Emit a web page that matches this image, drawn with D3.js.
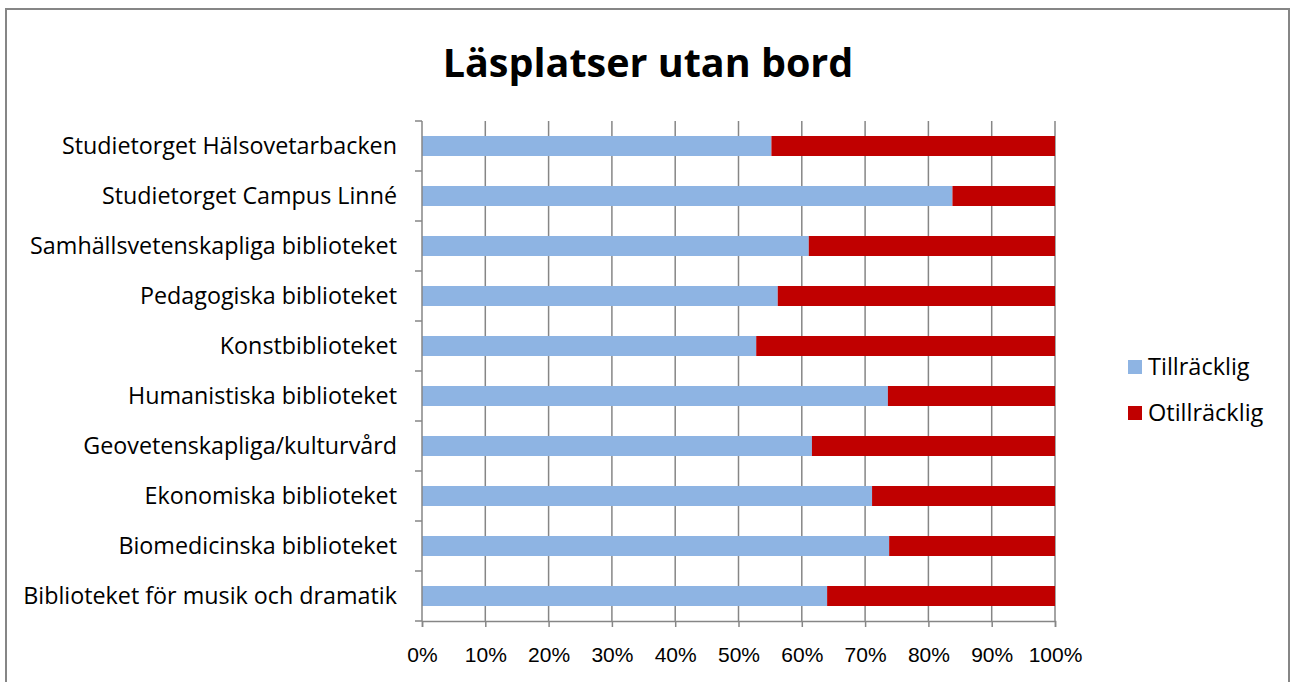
<!DOCTYPE html>
<html>
<head>
<meta charset="utf-8">
<script src="https://cdn.jsdelivr.net/npm/d3@7"></script>
<style>
  html, body { margin: 0; padding: 0; background: #fff; }
  svg { display: block; font-family: "Open Sans", Lato, sans-serif; }
</style>
</head>
<body>
<div id="chart"></div>
<script>
// Läsplatser utan bord - stacked 100% bar chart

const categories = [
  "Studietorget Hälsovetarbacken",
  "Studietorget Campus Linné",
  "Samhällsvetenskapliga biblioteket",
  "Pedagogiska biblioteket",
  "Konstbiblioteket",
  "Humanistiska biblioteket",
  "Geovetenskapliga/kulturvård",
  "Ekonomiska biblioteket",
  "Biomedicinska biblioteket",
  "Biblioteket för musik och dramatik"
];

// share (%) per library
const tillracklig = [55.2, 83.8, 61.1, 56.2, 52.8, 73.6, 61.6, 71.1, 73.8, 64.0];
const otillracklig = [44.8, 16.2, 38.9, 43.8, 47.2, 26.4, 38.4, 28.9, 26.2, 36.0];

const seriesNames = ["Tillräcklig", "Otillräcklig"];
const seriesColors = ["#8EB4E3", "#C00000"];
const xTicks = [0, 10, 20, 30, 40, 50, 60, 70, 80, 90, 100];

const W = 1291, H = 682;
const plot = { left: 422, right: 1055, top: 121, bottom: 621 };

const svg = d3.select("#chart").append("svg")
  .attr("width", W)
  .attr("height", H);

// chart area frame
svg.append("rect")
  .attr("x", 6).attr("y", 9)
  .attr("width", 1283).attr("height", 690)
  .attr("fill", "#fff")
  .attr("stroke", "#868686")
  .attr("stroke-width", 2);

// title
svg.append("text")
  .attr("x", 648).attr("y", 77)
  .attr("text-anchor", "middle")
  .style("font-size", "39.5px")
  .style("font-weight", "bold")
  .style("fill", "#000")
  .text("Läsplatser utan bord");

const rows = categories.map((c, i) => ({
  name: c,
  values: [tillracklig[i], otillracklig[i]]
}));

const x = d3.scaleLinear().domain([0, 100]).range([plot.left, plot.right]);
const y = d3.scaleBand()
  .domain(categories)
  .range([plot.top, plot.bottom])
  .paddingInner(0.6)
  .paddingOuter(0.3);

// vertical gridlines
svg.append("g")
  .selectAll("line")
  .data(xTicks.slice(1))
  .join("line")
  .attr("x1", d => x(d)).attr("x2", d => x(d))
  .attr("y1", plot.top).attr("y2", plot.bottom)
  .attr("stroke", "#868686")
  .attr("stroke-width", 1.5);

// stacked bars
const stack = d3.stack().keys([0, 1]).value((d, k) => d.values[k]);
const layers = stack(rows);

svg.append("g")
  .selectAll("g")
  .data(layers)
  .join("g")
  .attr("fill", (d, i) => seriesColors[i])
  .selectAll("rect")
  .data(d => d)
  .join("rect")
  .attr("x", d => x(d[0]))
  .attr("y", d => y(d.data.name))
  .attr("width", d => x(d[1]) - x(d[0]))
  .attr("height", y.bandwidth());

// x axis
const xAxis = svg.append("g")
  .attr("transform", `translate(0,${plot.bottom})`)
  .call(d3.axisBottom(x).tickValues(xTicks).tickFormat(d => d + "%").tickSize(6).tickPadding(20));
xAxis.select(".domain").attr("stroke", "#868686").attr("stroke-width", 1.5);
xAxis.selectAll(".tick line").attr("stroke", "#868686").attr("stroke-width", 1.5);
xAxis.selectAll("text").style("font-size", "21px").style("fill", "#000");

// y axis with ticks between categories
const yAxis = svg.append("g")
  .attr("transform", `translate(${plot.left},0)`);
yAxis.append("line")
  .attr("x1", 0).attr("x2", 0)
  .attr("y1", plot.top).attr("y2", plot.bottom)
  .attr("stroke", "#868686").attr("stroke-width", 1.5);
const boundaries = d3.range(categories.length + 1).map(i => plot.top + i * (plot.bottom - plot.top) / categories.length);
yAxis.selectAll(".ytick")
  .data(boundaries)
  .join("line")
  .attr("class", "ytick")
  .attr("x1", -7).attr("x2", 0)
  .attr("y1", d => d).attr("y2", d => d)
  .attr("stroke", "#868686").attr("stroke-width", 1.5);
yAxis.selectAll(".ylabel")
  .data(categories)
  .join("text")
  .attr("class", "ylabel")
  .attr("x", -25)
  .attr("y", d => y(d) + y.bandwidth() / 2)
  .attr("dy", "0.35em")
  .attr("text-anchor", "end")
  .style("font-size", "23.3px")
  .style("fill", "#000")
  .text(d => d);

// legend
const legend = svg.append("g")
  .attr("transform", "translate(1128,360)");
const item = legend.selectAll("g")
  .data(seriesNames)
  .join("g")
  .attr("transform", (d, i) => `translate(0,${i * 46})`);
item.append("rect")
  .attr("width", 14).attr("height", 14)
  .attr("fill", (d, i) => seriesColors[i]);
item.append("text")
  .attr("x", 20).attr("y", 7)
  .attr("dy", "0.35em")
  .style("font-size", "23.5px")
  .style("fill", "#000")
  .text(d => d);
</script>
</body>
</html>
